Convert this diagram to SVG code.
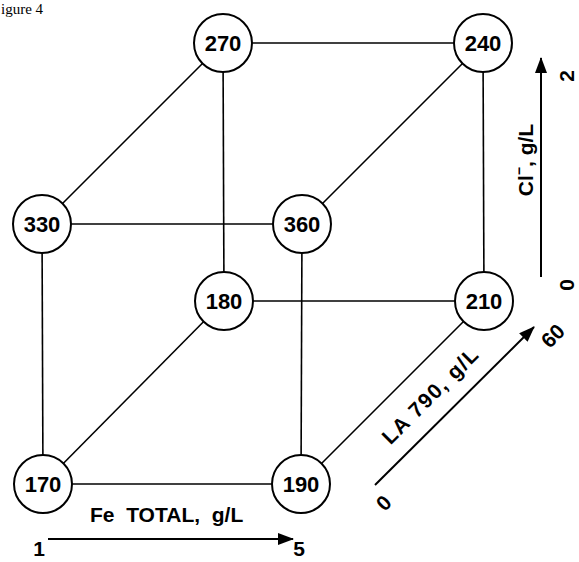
<svg xmlns="http://www.w3.org/2000/svg" width="579" height="562" viewBox="0 0 579 562">
<style>
.e{stroke:#000;stroke-width:1.6;fill:none}
.ax{stroke:#000;stroke-width:2;fill:none}
.n circle{fill:#fff;stroke:#000;stroke-width:2}
.n text{font-family:"Liberation Sans",Arial,sans-serif;font-weight:bold;font-size:22px;text-anchor:middle;fill:#000}
.lb{font-family:"Liberation Sans",Arial,sans-serif;font-weight:bold;font-size:21px;fill:#000}
.cap{font-family:"Liberation Serif","Times New Roman",serif;font-size:15px;fill:#000}
</style>
<defs>
<marker id="ah" viewBox="0 0 16 12" refX="15" refY="6" markerWidth="16" markerHeight="12" markerUnits="userSpaceOnUse" orient="auto"><path d="M0,0 L16,6 L0,12 z" fill="#000"/></marker>
</defs>
<text class="cap" x="1" y="14">igure 4</text>
<g id="connectors">
<line class="e" x1="223" y1="43" x2="483" y2="43"/>
<line class="e" x1="42" y1="224" x2="302" y2="224"/>
<line class="e" x1="223" y1="43" x2="42" y2="224"/>
<line class="e" x1="483" y1="43" x2="302" y2="224"/>
<line class="e" x1="224" y1="301" x2="484" y2="301"/>
<line class="e" x1="43" y1="484" x2="301" y2="484"/>
<line class="e" x1="224" y1="301" x2="43" y2="484"/>
<line class="e" x1="484" y1="301" x2="301" y2="484"/>
<line class="e" x1="223" y1="43" x2="224" y2="301"/>
<line class="e" x1="483" y1="43" x2="484" y2="301"/>
<line class="e" x1="42" y1="224" x2="43" y2="484"/>
<line class="e" x1="302" y1="224" x2="301" y2="484"/>
</g>
<g id="n270" class="n"><circle cx="223" cy="43" r="29"/><text x="223" y="51">270</text></g>
<g id="n240" class="n"><circle cx="483" cy="43" r="29"/><text x="483" y="51">240</text></g>
<g id="n330" class="n"><circle cx="42" cy="224" r="29"/><text x="42" y="232">330</text></g>
<g id="n360" class="n"><circle cx="302" cy="224" r="29"/><text x="302" y="232">360</text></g>
<g id="n180" class="n"><circle cx="224" cy="301" r="29"/><text x="224" y="309">180</text></g>
<g id="n210" class="n"><circle cx="484" cy="301" r="29"/><text x="484" y="309">210</text></g>
<g id="n170" class="n"><circle cx="43" cy="484" r="29"/><text x="43" y="492">170</text></g>
<g id="n190" class="n"><circle cx="301" cy="484" r="29"/><text x="301" y="492">190</text></g>
<g id="axes">
<line class="ax" x1="48" y1="539" x2="293" y2="539" marker-end="url(#ah)"/>
<text class="lb" x="90" y="522" xml:space="preserve">Fe  TOTAL,  g/L</text>
<text class="lb" x="39" y="556" text-anchor="middle">1</text>
<text class="lb" x="299" y="556" text-anchor="middle">5</text>
<line class="ax" x1="541" y1="277" x2="541" y2="58" marker-end="url(#ah)"/>
<text class="lb" transform="translate(533,160) rotate(-90)" text-anchor="middle">Cl<tspan font-size="14" dy="-9">−</tspan><tspan dy="9">, g/L</tspan></text>
<text class="lb" transform="translate(574,76) rotate(-90)" text-anchor="middle">2</text>
<text class="lb" transform="translate(574,285) rotate(-90)" text-anchor="middle">0</text>
<line class="ax" x1="375" y1="485" x2="534" y2="327" marker-end="url(#ah)"/>
<text class="lb" transform="translate(435,401) rotate(-45)" text-anchor="middle" textLength="126" lengthAdjust="spacing">LA 790, g/L</text>
<text class="lb" transform="translate(558,341) rotate(-45)" text-anchor="middle">60</text>
<text class="lb" transform="translate(389,508) rotate(-45)" text-anchor="middle">0</text>
</g>
</svg>
